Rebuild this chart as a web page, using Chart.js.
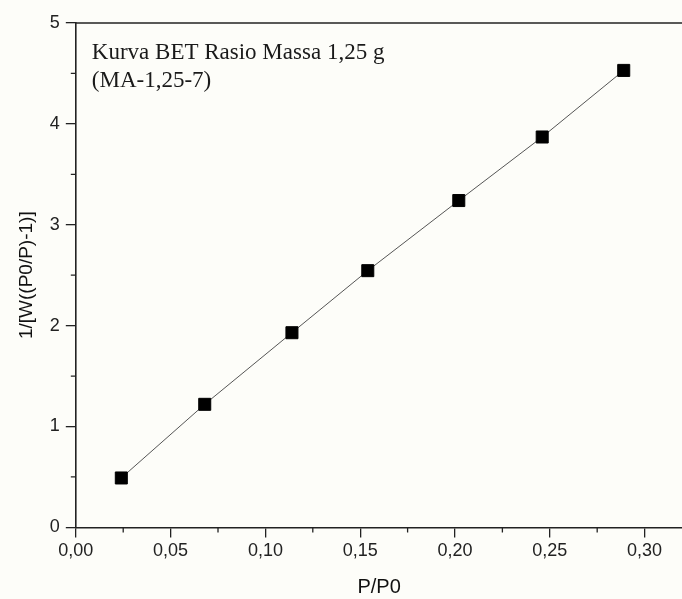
<!DOCTYPE html>
<html>
<head>
<meta charset="utf-8">
<script src="https://cdn.jsdelivr.net/npm/chart.js@4.4.0/dist/chart.umd.min.js"></script>
<style>
  html, body { margin: 0; padding: 0; background: #fdfdf9; overflow: hidden; }
  #wrap { width: 692px; height: 599px; }
</style>
</head>
<body>
<div id="wrap"><canvas id="betChart"></canvas></div>
<script>
// data
const pRatio = [0.024, 0.068, 0.114, 0.154, 0.202, 0.246, 0.289];
const betValues = [0.49, 1.22, 1.93, 2.545, 3.24, 3.87, 4.53];
const xTicks = [0, 0.05, 0.10, 0.15, 0.20, 0.25, 0.30];
const xMinorTicks = [0.025, 0.075, 0.125, 0.175, 0.225, 0.275];
const yTicks = [0, 1, 2, 3, 4, 5];
const yMinorTicks = [0.5, 1.5, 2.5, 3.5, 4.5];
const noteLines = ['Kurva BET Rasio Massa 1,25 g', '(MA-1,25-7)'];

const points = pRatio.map((x, i) => ({ x: x, y: betValues[i] }));

// minor ticks, top frame line and the note text
const extras = {
  id: 'extras',
  afterDraw(chart) {
    const ctx = chart.ctx;
    const area = chart.chartArea;
    const xs = chart.scales.x, ys = chart.scales.y;
    ctx.save();
    ctx.strokeStyle = '#222';
    ctx.lineWidth = 1.3;
    ctx.beginPath();
    xMinorTicks.forEach(v => {
      const px = xs.getPixelForValue(v);
      ctx.moveTo(px, area.bottom);
      ctx.lineTo(px, area.bottom + 5);
    });
    yMinorTicks.forEach(v => {
      const py = ys.getPixelForValue(v);
      ctx.moveTo(area.left, py);
      ctx.lineTo(area.left - 5, py);
    });
    ctx.stroke();

    ctx.lineWidth = 1.6;
    ctx.beginPath();
    ctx.moveTo(area.left, area.top);
    ctx.lineTo(area.right, area.top);
    ctx.stroke();

    ctx.fillStyle = '#1a1a1a';
    ctx.font = '23px "Liberation Serif", "Times New Roman", serif';
    ctx.textBaseline = 'alphabetic';
    noteLines.forEach((t, i) => {
      ctx.fillText(t, area.left + 16, area.top + 36 + i * 28);
    });
    ctx.restore();
  }
};

const fmt = v => v.toFixed(2).replace('.', ',');

new Chart(document.getElementById('betChart'), {
  type: 'scatter',
  data: {
    datasets: [{
      data: points,
      showLine: true,
      borderColor: '#555',
      borderWidth: 1,
      pointStyle: 'rect',
      pointRadius: 8.5,
      pointBackgroundColor: '#000',
      pointBorderColor: '#000',
      pointBorderWidth: 1
    }]
  },
  options: {
    responsive: true,
    maintainAspectRatio: false,
    animation: false,
    layout: { padding: { top: 23, right: 0, left: 4, bottom: 0 } },
    plugins: { legend: { display: false }, tooltip: { enabled: false } },
    scales: {
      x: {
        type: 'linear',
        min: 0,
        max: 0.32,
        afterBuildTicks: s => { s.ticks = xTicks.map(v => ({ value: v })); },
        ticks: {
          callback: v => fmt(v),
          color: '#222',
          font: { family: '"Liberation Sans", Arial, sans-serif', size: 18 },
          padding: 3,
          maxRotation: 0,
          autoSkip: false
        },
        grid: { drawOnChartArea: false, tickLength: 10, color: '#222', lineWidth: 1.3 },
        border: { color: '#222', width: 1.6 },
        title: {
          display: true,
          text: 'P/P0',
          color: '#111',
          font: { family: '"Liberation Sans", Arial, sans-serif', size: 20 },
          padding: { top: 10, bottom: 0 }
        }
      },
      y: {
        type: 'linear',
        min: 0,
        max: 5,
        afterBuildTicks: s => { s.ticks = yTicks.map(v => ({ value: v })); },
        ticks: {
          color: '#222',
          font: { family: '"Liberation Sans", Arial, sans-serif', size: 18 },
          padding: 6
        },
        grid: { drawOnChartArea: false, tickLength: 10, color: '#222', lineWidth: 1.3 },
        border: { color: '#222', width: 1.6 },
        title: {
          display: true,
          text: '1/[W((P0/P)-1)]',
          color: '#111',
          font: { family: '"Liberation Sans", Arial, sans-serif', size: 19 },
          padding: { top: 11, bottom: 6 }
        }
      }
    }
  },
  plugins: [extras]
});
</script>
</body>
</html>
